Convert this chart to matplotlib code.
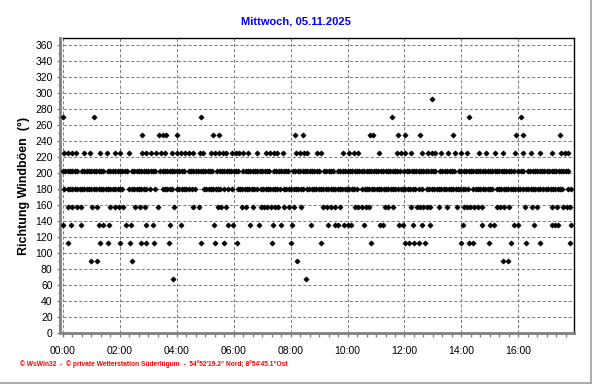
import matplotlib
matplotlib.use("Agg")
import matplotlib.pyplot as plt
from matplotlib.lines import Line2D
from matplotlib.ticker import FixedLocator, MultipleLocator

plt.rcParams['font.family'] = ['Liberation Sans', 'DejaVu Sans']

title = "Mittwoch, 05.11.2025"
ylabel = "Richtung Windböen  (°)"
footer = "\u00a9 WsWin32  -  \u00a9 private Wetterstation Süderlügum  -  54°52'19.2\" Nord; 8°54'45.1\"Ost"

xtick_minutes = [0, 120, 240, 360, 480, 600, 720, 840, 960]
xtick_labels = ["00:00", "02:00", "04:00", "06:00", "08:00", "10:00", "12:00", "14:00", "16:00"]
ytick_values = [0, 20, 40, 60, 80, 100, 120, 140, 160, 180, 200, 220, 240, 260, 280, 300, 320, 340, 360]

# times (minutes after midnight) at which each gust direction was recorded
t_292 = [778]
t_270 = [1, 65, 290, 693, 856, 966]
t_247 = [166, 202, 210, 218, 240, 316, 328, 489, 507, 647, 653, 706, 722, 752, 822, 956, 970, 1048]
t_225 = [3, 10, 19, 27, 44, 56, 77, 92, 109, 120, 140, 166, 176, 186, 196, 207, 216, 229, 240, 249,
         257, 265, 274, 288, 296, 311, 320, 328, 337, 344, 357, 365, 372, 379, 391, 410, 428, 436,
         444, 452, 463, 492, 500, 508, 515, 535, 545, 590, 602, 613, 622, 667, 704, 713, 721, 733,
         757, 769, 777, 785, 797, 812, 826, 840, 852, 878, 892, 910, 928, 954, 970, 986, 1006, 1030,
         1050, 1058, 1065]
t_202 = [0, 5, 10, 15, 20, 25, 30, 40, 45, 50, 55, 60, 65, 70, 75, 80, 85, 95, 100, 105, 110, 115,
         120, 125, 130, 135, 145, 150, 155, 160, 165, 170, 175, 180, 185, 190, 195, 205, 210, 215,
         220, 225, 230, 235, 240, 245, 250, 255, 265, 270, 275, 280, 285, 290, 295, 300, 305, 310,
         315, 325, 330, 335, 340, 345, 350, 355, 360, 365, 370, 380, 385, 390, 395, 400, 405, 410,
         415, 420, 425, 430, 435, 445, 450, 455, 460, 465, 470, 475, 485, 490, 495, 500, 505, 510,
         515, 520, 525, 530, 535, 540, 550, 555, 560, 565, 570, 580, 585, 590, 595, 600, 605, 610,
         615, 620, 625, 630, 635, 640, 645, 650, 655, 660, 665, 670, 675, 680, 685, 690, 695, 700,
         705, 710, 720, 725, 730, 735, 740, 745, 750, 755, 760, 765, 770, 775, 780, 785, 795, 800,
         805, 810, 815, 820, 825, 835, 840, 845, 850, 855, 860, 865, 870, 875, 880, 885, 890, 895,
         900, 905, 910, 915, 920, 925, 930, 935, 940, 945, 950, 960, 965, 970, 980, 985, 990, 995,
         1000, 1005, 1010, 1015, 1020, 1025, 1030, 1035, 1040, 1045, 1050, 1055, 1060, 1065]
t_180 = [2, 10, 15, 20, 25, 30, 35, 40, 45, 50, 55, 60, 65, 70, 75, 80, 85, 90, 95, 100, 105, 110,
         115, 120, 125, 140, 145, 150, 155, 160, 165, 170, 175, 183, 194, 210, 215, 220, 225, 230,
         240, 245, 250, 255, 260, 265, 271, 278, 297, 302, 307, 312, 317, 322, 327, 332, 340, 348,
         356, 368, 373, 378, 383, 388, 393, 398, 403, 408, 417, 422, 427, 432, 437, 442, 447, 452,
         457, 466, 471, 476, 481, 486, 491, 496, 501, 506, 514, 519, 524, 529, 534, 539, 544, 549,
         554, 559, 564, 569, 574, 579, 584, 589, 594, 599, 604, 609, 614, 619, 631, 636, 641, 646,
         651, 656, 661, 666, 671, 676, 681, 686, 691, 696, 701, 706, 712, 717, 722, 727, 732, 737,
         743, 750, 756, 767, 772, 777, 782, 788, 793, 798, 803, 808, 813, 818, 823, 828, 833, 838,
         843, 848, 853, 865, 870, 875, 880, 885, 890, 895, 900, 905, 914, 919, 924, 929, 934, 939,
         944, 949, 954, 959, 964, 969, 976, 981, 986, 991, 996, 1001, 1006, 1013, 1018, 1023, 1028,
         1033, 1038, 1043, 1048, 1053, 1064, 1072]
t_157 = [11, 20, 29, 37, 61, 71, 100, 109, 118, 126, 152, 162, 172, 201, 235, 275, 286, 326, 334,
         344, 378, 386, 401, 417, 424, 431, 438, 446, 453, 466, 477, 487, 501, 548, 557, 565, 574,
         583, 616, 623, 630, 638, 646, 678, 686, 695, 734, 746, 753, 760, 767, 774, 792, 809, 830,
         845, 852, 859, 866, 874, 883, 915, 922, 930, 940, 975, 989, 1000, 1032, 1041, 1055, 1062,
         1069]
t_135 = [0, 17, 38, 75, 85, 96, 132, 144, 176, 190, 226, 248, 318, 347, 358, 394, 413, 442, 460,
         482, 523, 558, 574, 580, 593, 601, 608, 635, 668, 675, 709, 716, 738, 756, 774, 843, 884,
         900, 908, 951, 959, 993, 1030, 1037, 1044, 1070]
t_112 = [10, 77, 95, 120, 141, 164, 174, 192, 224, 290, 320, 340, 366, 441, 481, 544, 650, 721,
         730, 740, 751, 763, 840, 857, 864, 899, 945, 976, 1005, 1069]
t_90 = [58, 71, 145, 494, 927, 938]
t_67 = [231, 512]

directions = [292.5, 270.0, 247.5, 225.0, 202.5, 180.0, 157.5, 135.0, 112.5, 90.0, 67.5]
times = [t_292, t_270, t_247, t_225, t_202, t_180, t_157, t_135, t_112, t_90, t_67]

W, H = 592, 384
fig = plt.figure(figsize=(W / 100, H / 100), dpi=100)
x0, x1, y0, y1 = 63.0, 574.3, 38.3, 333.3
ax = fig.add_axes([x0 / W, 1 - y1 / H, (x1 - x0) / W, (y1 - y0) / H])

for d, ts in zip(directions, times):
    ax.plot(ts, [d] * len(ts), ls='none', marker='D', ms=2.7, mew=0.4, mec='black',
            color='black', clip_on=False, zorder=3)

ax.set_xlim(0, 1078)
ax.set_ylim(0, 369)
ax.xaxis.set_major_locator(FixedLocator(xtick_minutes))
ax.set_xticklabels(xtick_labels)
ax.xaxis.set_minor_locator(MultipleLocator(20))
ax.set_yticks(ytick_values)
ax.yaxis.set_minor_locator(MultipleLocator(10))

ax.grid(True, which='major', color='#808080', lw=0.75, ls=(0, (3, 2)))
ax.set_axisbelow(True)

for s in ('top', 'right'):
    ax.spines[s].set_color('black')
    ax.spines[s].set_linewidth(1.0)
for s in ('left', 'bottom'):
    ax.spines[s].set_color('#808080')
    ax.spines[s].set_linewidth(2.0)
ax.spines['left'].set_position(('outward', 2.0))

ax.tick_params(axis='both', which='both', colors='#808080', labelcolor='black',
               labelsize=7.5, direction='out')
ax.tick_params(axis='x', which='major', length=3, width=1, pad=6)
ax.tick_params(axis='x', which='minor', length=3, width=1)
ax.tick_params(axis='y', which='major', length=2.5, width=1, pad=3)
ax.tick_params(axis='y', which='minor', length=1.5, width=1)

ax.set_ylabel(ylabel, fontsize=9, fontweight='bold', labelpad=4)

fig.text(296 / W, 1 - 22 / H, title, color='#0000ff', fontsize=8, fontweight='bold',
         ha='center', va='center')
fig.text(20 / W, 1 - 364 / H, footer, color='#ff0000', fontsize=4.8, fontweight='bold',
         ha='left', va='center')

fig.add_artist(Line2D([590.5 / W, 590.5 / W], [0, 1], color='#a0a0a0', lw=1.2))
fig.add_artist(Line2D([0, 590.5 / W], [1 - 382.5 / H, 1 - 382.5 / H], color='#a0a0a0', lw=1.2))

fig.savefig('out.png', dpi=100, facecolor='white')
